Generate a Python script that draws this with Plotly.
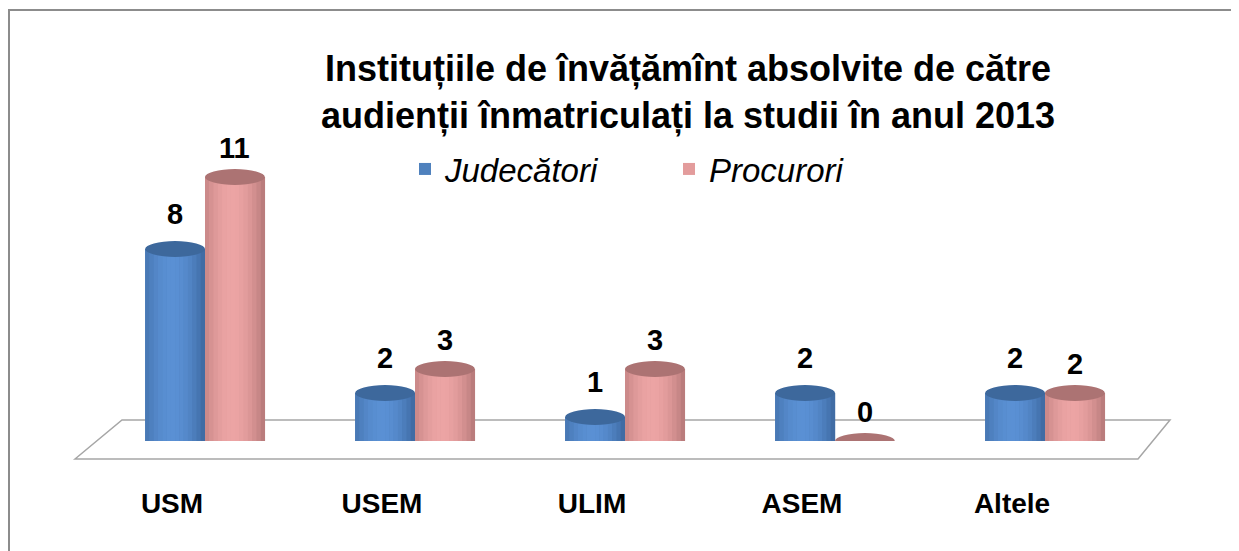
import plotly.graph_objects as go

categories = ["USM", "USEM", "ULIM", "ASEM", "Altele"]
judecatori = [8, 2, 1, 2, 2]
procurori = [11, 3, 3, 0, 2]
series_names = ["Judecători", "Procurori"]
title_text = "Instituțiile de învățămînt absolvite de către<br>audienții înmatriculați la studii în anul 2013"

OFF = 8  # page body margin
W, H = 1239 - OFF, 551 - OFF
# plot area in screen coordinates: x 100..1150, y 153..441
YMAX = 12
ML = 100 - OFF
MT = 153 - OFF
MR = W - (1150 - OFF)
MB = H - (441 - OFF)
BARGAP = 0.43

body_dark = [(0x36, 0x5F, 0x93), (0xA8, 0x6E, 0x6E)]
body_light = [(0x5A, 0x90, 0xD4), (0xEC, 0xA4, 0xA4)]
body_colors = ["#4F81BD", "#E39C9C"]
top_colors = ["#3D689C", "#AC7373"]
label_shift = [35, 29]
FONT = "Liberation Sans, Arial, sans-serif"

pw, ph = W - ML - MR, H - MT - MB
def px(x): return (x - OFF - ML) / pw
def py(y): return (H - MB - (y - OFF)) / ph

fig = go.Figure()
xs = list(range(len(categories)))
for name, vals, col in zip(series_names, [judecatori, procurori], body_colors):
    fig.add_trace(go.Bar(x=xs, y=vals, name=name, marker=dict(color=col, line=dict(width=0)),
                         hoverinfo="x+y"))

def rgb(c): return "rgb(%d,%d,%d)" % tuple(int(round(v)) for v in c)

bw = (1 - BARGAP) / 2
ell_h = 0.33
NS = 14
shapes = []
annotations = []
for si, vals in enumerate([judecatori, procurori]):
    off = (-0.5 + si) * bw
    for i, v in enumerate(vals):
        xc = i + off
        x0 = xc - bw / 2
        if v > 0:
            for k in range(NS):
                t = (k + 0.5) / NS
                f = 1 - ((t - 0.45) / 0.6) ** 2
                f = max(0.0, min(1.0, f))
                c = [d + (l - d) * f for d, l in zip(body_dark[si], body_light[si])]
                shapes.append(dict(type="rect", xref="x", yref="y",
                                   x0=x0 + k * bw / NS, x1=x0 + (k + 1) * bw / NS + 0.001,
                                   y0=0, y1=v, fillcolor=rgb(c), line=dict(width=0), layer="above"))
            shapes.append(dict(type="circle", xref="x", yref="y", x0=x0, x1=x0 + bw,
                               y0=-ell_h, y1=ell_h, fillcolor=body_colors[si],
                               line=dict(width=0), layer="below"))
        shapes.append(dict(type="circle", xref="x", yref="y", x0=x0, x1=x0 + bw,
                           y0=v - ell_h, y1=v + ell_h, fillcolor=top_colors[si],
                           line=dict(width=0), layer="above"))
        annotations.append(dict(x=xc, y=v, xref="x", yref="y", text=str(v), showarrow=False,
                                yshift=label_shift[si],
                                font=dict(family=FONT, size=29, color="black", weight="bold")))

floor = f"M {px(75)} {py(459)} L {px(122)} {py(420)} L {px(1170)} {py(420)} L {px(1138)} {py(459)} Z"
shapes.insert(0, dict(type="path", xref="paper", yref="paper", path=floor,
                      line=dict(color="#A6A6A6", width=1.5), fillcolor="white", layer="below"))
shapes.append(dict(type="line", xref="paper", yref="paper", x0=px(8), x1=px(1260), y0=py(10), y1=py(10),
                   line=dict(color="#8C8C8C", width=2)))
shapes.append(dict(type="line", xref="paper", yref="paper", x0=px(9), x1=px(9), y0=py(10), y1=py(580),
                   line=dict(color="#8C8C8C", width=2)))

fig.update_layout(
    width=W, height=H,
    margin=dict(l=ML, r=MR, t=MT, b=MB),
    paper_bgcolor="white", plot_bgcolor="white",
    barmode="group", bargap=BARGAP, bargroupgap=0,
    title=dict(text=title_text, x=px(688), xref="paper", xanchor="center", y=1 - 73 / H, yanchor="middle",
               font=dict(family=FONT, size=36, color="black", weight="bold")),
    legend=dict(orientation="h", x=px(405), y=py(169), xanchor="left", yanchor="middle",
                font=dict(family=FONT, size=33, color="black", style="italic"),
                itemwidth=30, traceorder="normal", entrywidthmode="pixels", entrywidth=219,
                bgcolor="rgba(0,0,0,0)"),
    xaxis=dict(tickmode="array", tickvals=xs, ticktext=categories, range=[-0.5, len(categories) - 0.5],
               showgrid=False, zeroline=False, showline=False, ticks="",
               tickfont=dict(family=FONT, size=28, color="black", weight="bold"),
               ticklabelstandoff=43, ticklabelshift=-33),
    yaxis=dict(range=[0, YMAX], visible=False, showgrid=False, zeroline=False),
    shapes=shapes,
    annotations=annotations,
    showlegend=True,
)

fig.write_html("out.html")
